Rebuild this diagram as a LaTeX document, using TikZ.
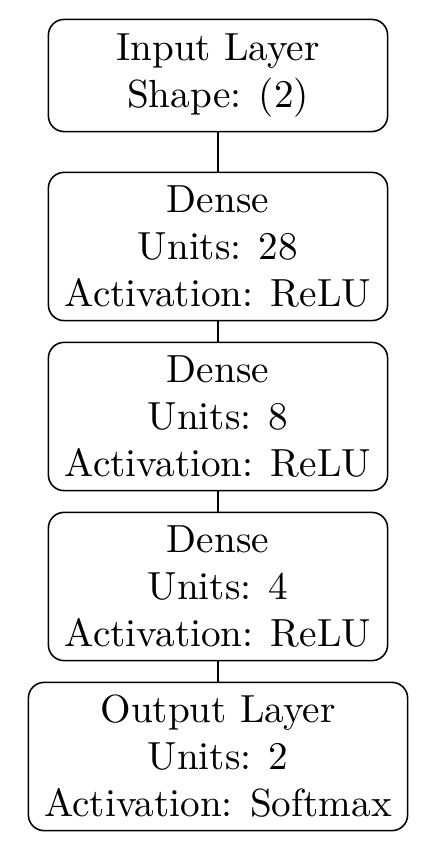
\documentclass[tikz,border=0pt]{standalone}
\begin{document}
\begin{tikzpicture}[x=0.255pt,y=-0.255pt,
  layer/.style={draw, rounded corners=4pt, align=center, inner sep=0pt, line width=0.4pt,
    minimum width=86.5pt},
  conn/.style={line width=0.4pt}]
\useasboundingbox (0,0) rectangle (437,852);
\node[layer, minimum height=28.6pt] (in) at (218,75.5) {Input Layer\\Shape: (2)};
\node[layer, minimum height=37.8pt] (d1) at (218,246.5) {Dense\\Units: 28\\Activation: ReLU};
\node[layer, minimum height=37.8pt] (d2) at (218,416.5) {Dense\\Units: 8\\Activation: ReLU};
\node[layer, minimum height=37.8pt] (d3) at (218,586.5) {Dense\\Units: 4\\Activation: ReLU};
\node[layer, minimum height=37.8pt, minimum width=96.7pt] (out) at (218,756.5) {Output Layer\\Units: 2\\Activation: Softmax};
\draw[conn] (in) -- (d1);
\draw[conn] (d1) -- (d2);
\draw[conn] (d2) -- (d3);
\draw[conn] (d3) -- (out);
\end{tikzpicture}
\end{document}
